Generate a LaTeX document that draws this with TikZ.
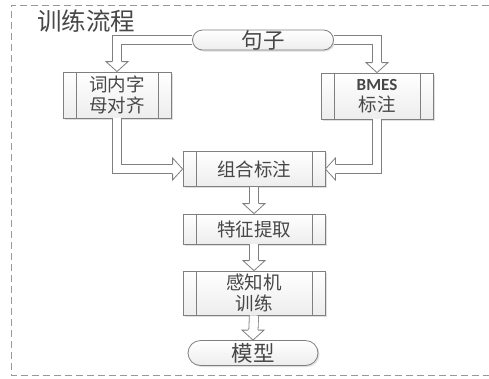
\documentclass[tikz,border=0pt]{standalone}
\usepackage{fontspec}
\setmainfont{Noto Sans CJK SC}
\newfontfamily\carlito{Carlito}
\usetikzlibrary{shapes.misc,shadows,calc}
\definecolor{txt}{HTML}{474747}
\definecolor{edge}{HTML}{7F7F7F}
\tikzset{
  procbox/.style={draw=edge, line width=0.8pt, top color=white, bottom color=gray!14,
    minimum width=#1, inner sep=0pt, text=txt, align=center,
    font=\fontsize{18.5}{21}\selectfont,
    drop shadow={opacity=0.25, shadow xshift=1.5pt, shadow yshift=-1.5pt},
    path picture={
      \draw[edge, line width=0.7pt] ([xshift=13pt]path picture bounding box.north west) -- ([xshift=13pt]path picture bounding box.south west);
      \draw[edge, line width=0.7pt] ([xshift=-13pt]path picture bounding box.north east) -- ([xshift=-13pt]path picture bounding box.south east);
    }},
  termbox/.style={rounded rectangle, draw=edge, line width=0.8pt, top color=white, bottom color=gray!14,
    minimum width=#1, inner sep=0pt, text=txt, font=\fontsize{21.5}{22}\selectfont,
    drop shadow={opacity=0.25, shadow xshift=1.5pt, shadow yshift=-1.5pt}},
  shaft/.style={draw=edge, line width=0.8pt, double=white, double distance=8.4pt, shorten >=10pt, line join=miter},
  headst/.style={draw=edge, fill=white, line width=0.8pt, line join=miter},
  border/.style={draw=gray!80, line width=0.8pt, dash pattern=on 7pt off 4pt}
}
\newcommand\bhead[2]{\filldraw[headst, shift={(#1)}, rotate=#2] (-10,5) -- (-10,11) -- (0,0) -- (-10,-11) -- (-10,-5);}
\begin{document}
\begin{tikzpicture}[x=1pt,y=1pt]
\useasboundingbox (0,0) rectangle (489,-378);
% border
\coordinate (b1) at (489,-5);
\coordinate (b2) at (11,-5);
\coordinate (b3) at (11,-375);
\coordinate (b4) at (489,-375);
\draw[border] (b1) -- (b2) -- (b3) -- (b4);
\node[text=txt, font=\fontsize{24.5}{25}\selectfont] (title) at (86,-21) {训练流程};
% nodes
\node[termbox=141pt, minimum height=20pt] (J) at (263,-40) {句子};
\node[procbox=108pt, minimum height=46pt] (L) at (117,-95) {词内字\\母对齐};
\node[procbox=112pt, minimum height=46pt] (R) at (377,-96) {{\carlito\bfseries\fontsize{17}{21}\selectfont BMES}\\标注};
\node[procbox=142pt, minimum height=35pt] (C) at (254,-169) {组合标注};
\node[procbox=142pt, minimum height=30pt] (F) at (254,-229) {特征提取};
\node[procbox=142pt, minimum height=44pt] (P) at (254,-293) {感知机\\训练};
\node[termbox=130pt, minimum height=25pt] (M) at (253,-353) {模型};
% shafts
\draw[shaft] (J.west) -| (L.north);
\draw[shaft] (J.east) -| (R.north);
\draw[shaft] (L.south) |- (C.west);
\draw[shaft] (R.south) |- (C.east);
\draw[shaft] (C.south) -- (F.north);
\draw[shaft] (F.south) -- (P.north);
\draw[shaft] (P.south) -- (M.north);
% heads
\bhead{L.north}{-90}
\bhead{R.north}{-90}
\bhead{C.west}{0}
\bhead{C.east}{180}
\bhead{F.north}{-90}
\bhead{P.north}{-90}
\bhead{M.north}{-90}
\end{tikzpicture}
\end{document}
